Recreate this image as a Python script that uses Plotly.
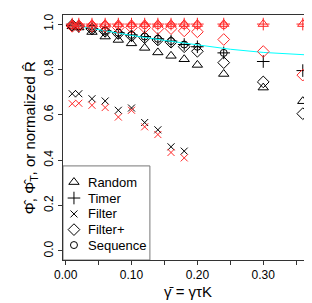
import plotly.graph_objects as go

# ---- data ----
gamma_bar = [0.01, 0.02, 0.04, 0.06, 0.08, 0.10, 0.12, 0.14, 0.16, 0.18, 0.20, 0.24, 0.30, 0.36]

random_black = [0.99, 0.985, 0.965, 0.945, 0.93, 0.915, 0.895, 0.875, 0.86, 0.845, 0.82, 0.78, 0.72, 0.66]
timer_black = [0.995, 0.99, 0.98, 0.97, 0.962, 0.952, 0.945, 0.935, 0.925, 0.91, 0.90, 0.873, 0.835, 0.795]
filter_black = [0.693, 0.693, 0.671, 0.661, 0.62, 0.63, 0.566, 0.534, 0.459, 0.44]
filterplus_black = [0.995, 0.99, 0.978, 0.968, 0.958, 0.948, 0.94, 0.93, 0.92, 0.90, 0.88, 0.83, 0.745, 0.605]
sequence_black = [0.995, 0.99, 0.98, 0.97, 0.962, 0.952, 0.945, 0.935, 0.925, 0.91, 0.90, 0.873]

random_red = [1.0, 1.0, 1.0, 1.0, 1.0, 1.0, 1.0, 1.0, 1.0, 1.0, 1.0, 1.0, 1.0, 1.0]
timer_red = [1.0, 1.0, 1.0, 1.0, 1.0, 1.0, 1.0, 1.0, 1.0, 1.0, 1.0, 1.0, 1.0, 1.0]
filter_red = [0.649, 0.651, 0.642, 0.632, 0.59, 0.62, 0.547, 0.513, 0.434, 0.41]
filterplus_red = [0.99, 0.99, 0.99, 0.99, 0.985, 0.985, 0.985, 0.98, 0.98, 0.97, 0.966, 0.932, 0.879, 0.775]
sequence_red = [0.995, 0.995, 0.995, 0.995, 0.995, 0.995, 0.995, 0.995, 0.995, 0.995, 0.995, 0.995]

curve_x = [0.01, 0.05, 0.10, 0.15, 0.20, 0.25, 0.30, 0.38]
curve_y = [0.996, 0.975, 0.950, 0.928, 0.907, 0.889, 0.875, 0.862]

legend_labels = ["Random", "Timer", "Filter", "Filter+", "Sequence"]
legend_symbols = ["triangle-up-open", "cross-thin-open", "x-thin-open", "diamond-open", "circle-open"]
marker_sizes = [9, 9, 7, 9, 7]

x_ticks = [0.00, 0.10, 0.20, 0.30]
x_tick_labels = ["0.00", "0.10", "0.20", "0.30"]
y_ticks = [0.0, 0.2, 0.4, 0.6, 0.8, 1.0]
y_tick_labels = ["0.0", "0.2", "0.4", "0.6", "0.8", "1.0"]

x_title = "γ̄ = γτK"
y_title = "Φ̂, Φ̂<sub>T</sub>, or normalized R̂"

FONT = "Liberation Sans, Arial, Helvetica, sans-serif"

fig = go.Figure()

black_series = [random_black, timer_black, filter_black, filterplus_black, sequence_black]
red_series = [random_red, timer_red, filter_red, filterplus_red, sequence_red]

def add_points(series, color):
    for vals, sym, sz in zip(series, legend_symbols, marker_sizes):
        fig.add_trace(go.Scatter(
            x=gamma_bar[:len(vals)], y=vals, mode="markers",
            marker=dict(symbol=sym, size=sz, color=color,
                        line=dict(width=1, color=color)),
            showlegend=False, hoverinfo="skip"))

add_points(black_series, "black")
fig.add_trace(go.Scatter(x=curve_x, y=curve_y, mode="lines",
                         line=dict(color="#00FFFF", width=1),
                         showlegend=False, hoverinfo="skip"))
add_points(red_series, "#FF2828")

# ---- legend (drawn on an overlay axis spanning the plot area) ----
leg_x_sym = 0.044
leg_rows = [0.318, 0.253, 0.188, 0.124, 0.061]
for lab, sym, sz, yy in zip(legend_labels, legend_symbols, marker_sizes, leg_rows):
    fig.add_trace(go.Scatter(
        x=[leg_x_sym], y=[yy], mode="markers", xaxis="x2", yaxis="y2",
        marker=dict(symbol=sym, size=sz, color="black", line=dict(width=1, color="black")),
        showlegend=False, hoverinfo="skip"))
    fig.add_annotation(x=0.093, y=yy, xref="paper", yref="paper", text=lab,
                       showarrow=False, xanchor="left", yanchor="middle",
                       font=dict(family=FONT, size=13, color="black"))

fig.add_shape(type="rect", xref="paper", yref="paper", x0=0, x1=0.349, y0=0, y1=0.384,
              line=dict(color="#777777", width=1), fillcolor="white", layer="below")

# axis titles as annotations for exact placement
fig.add_annotation(x=0.5, y=-0.127, xref="paper", yref="paper", text=x_title,
                   showarrow=False, xanchor="center", yanchor="middle",
                   font=dict(family=FONT, size=15, color="black"))
fig.add_annotation(x=-0.13, y=0.5, xref="paper", yref="paper", text=y_title,
                   showarrow=False, xanchor="center", yanchor="middle", textangle=-90,
                   font=dict(family=FONT, size=15, color="black"))

fig.update_layout(
    width=312, height=303,
    margin=dict(l=55, r=8, t=7, b=51),
    paper_bgcolor="white", plot_bgcolor="rgba(0,0,0,0)",
    font=dict(family=FONT, size=12, color="black"),
    showlegend=False,
    xaxis=dict(range=[-0.004, 0.374], tickmode="array", tickvals=x_ticks, ticktext=x_tick_labels,
               ticks="outside", ticklen=4, tickcolor="#333", showgrid=False, zeroline=False,
               showline=True, linecolor="#333", linewidth=1, mirror=True,
               minor=dict(tickmode="array", tickvals=[0.05, 0.15, 0.25, 0.35], ticks="outside",
                          ticklen=4, tickcolor="#333"),
               tickfont=dict(size=12)),
    yaxis=dict(range=[-0.04, 1.04], tickmode="array", tickvals=y_ticks, ticktext=y_tick_labels,
               ticks="outside", ticklen=4, tickcolor="#333", showgrid=False, zeroline=False,
               showline=True, linecolor="#333", linewidth=1, mirror=True,
               tickangle=-90, tickfont=dict(size=12)),
    xaxis2=dict(range=[0, 1], overlaying="x", visible=False, domain=[0, 1]),
    yaxis2=dict(range=[0, 1], overlaying="y", visible=False, domain=[0, 1]),
)

fig.write_html("out.html")
